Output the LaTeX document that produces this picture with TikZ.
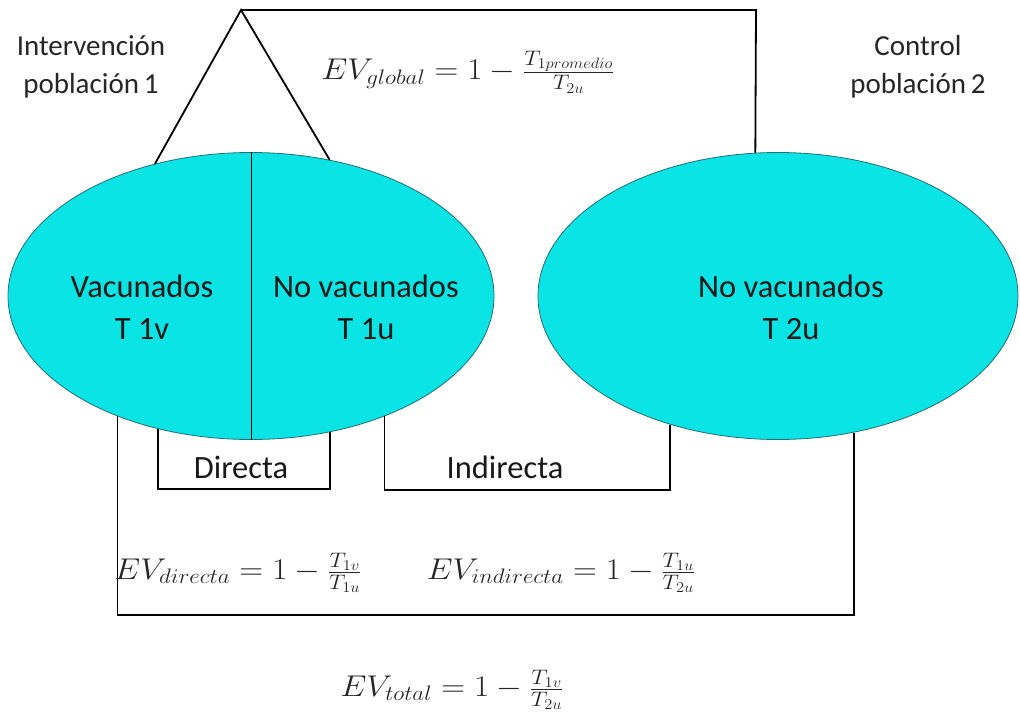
\RequirePackage{fix-cm}
\documentclass[tikz,border=0pt]{standalone}
\usepackage{fontspec}
\setmainfont{Carlito}
\usetikzlibrary{shapes.geometric}
\definecolor{cyanfill}{RGB}{10,228,228}
\definecolor{ellline}{RGB}{40,110,120}
\newcommand{\wideform}[1]{\scalebox{1.1}[1]{#1}}
\begin{document}
\begin{tikzpicture}[x=1pt,y=-1pt,
  pop/.style={ellipse, draw=ellline, line width=0.8pt, fill=cyanfill, inner sep=0pt},
  conn/.style={draw=black, line width=1.8pt, line cap=butt},
  lbl/.style={font=\fontsize{29}{38}\selectfont, align=center, text=black!85},
  inlbl/.style={font=\fontsize{32.5}{42}\selectfont, align=center, text=black!90},
  frm/.style={font=\fontsize{30}{36}\selectfont, text=black!85}]
\useasboundingbox (0,0) rectangle (1020,725);
\node[pop, minimum width=486pt, minimum height=287pt] (L) at (251,296) {};
\node[pop, minimum width=480pt, minimum height=287pt] (R) at (778,296) {};
\draw[draw=black, line width=1pt] (L.north) -- (L.south);
% top triangle and global link
\coordinate (apex) at (241,10);
\coordinate (corner) at (756,10);
\draw[conn] (L.126) -- (apex) -- (L.60);
\draw[conn] (apex) -- (corner) -- (R.99);
% brackets
\coordinate (dline) at (0,489);
\coordinate (iline) at (0,490);
\coordinate (tline) at (0,615);
\draw[conn] (L.235) -- (L.235 |- dline) -- (L.300 |- dline) -- (L.300);
\draw[conn] (L.318) -- (L.318 |- iline) -- (R.230 |- iline) -- (R.230);
\draw[conn] (L.222) -- (L.222 |- tline) -- (R.299 |- tline) -- (R.299);
% labels
\node[lbl] (int) at (91,67) {Intervención\\población\,1};
\node[lbl] (ctl) at (918,67) {Control\\población\,2};
\node[inlbl] (vac) at (142,307) {Vacunados\\T 1v};
\node[inlbl] (nv1) at (366,307) {No vacunados\\T 1u};
\node[inlbl] (nv2) at (791,307) {No vacunados\\T 2u};
\node[inlbl] (dir) at (241,467) {Directa};
\node[inlbl] (ind) at (505,467) {Indirecta};
% formulas
\node[frm] (fg) at (468,72) {\wideform{$EV_{global}=1-\frac{T_{1promedio}}{T_{2u}}$}};
\node[frm] (fd) at (238,573) {\wideform{$EV_{directa}=1-\frac{T_{1v}}{T_{1u}}$}};
\node[frm] (fi) at (561,573) {\wideform{$EV_{indirecta}=1-\frac{T_{1u}}{T_{2u}}$}};
\node[frm] (ft) at (452,690) {\wideform{$EV_{total}=1-\frac{T_{1v}}{T_{2u}}$}};
\end{tikzpicture}
\end{document}
